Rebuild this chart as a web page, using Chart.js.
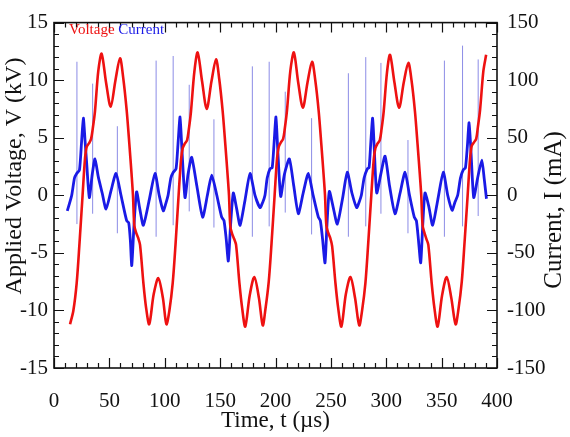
<!DOCTYPE html>
<html>
<head>
<meta charset="utf-8">
<script src="https://cdn.jsdelivr.net/npm/chart.js@4.4.1/dist/chart.umd.min.js"></script>
<style>
  html, body { margin: 0; padding: 0; background: #fff; }
</style>
</head>
<body>
<canvas id="chart" width="570" height="437"></canvas>
<script>
// Applied voltage (kV) vs time (us)
const voltTime = [
  14.5, 17.5, 20.5, 23, 25.8, 28, 29.5, 31.5, 33.5, 35, 37, 40, 43, 47, 51.2, 55.5, 59.6, 62.5, 65.6, 68, 70.1, 71.3, 72.5, 74, 76, 77.7, 80.7, 83.2, 86, 90, 94.2, 98.3, 101.5,
  104.2, 107.2, 109.7, 112.5, 114.7, 116.2, 118.2, 120.2, 121.7, 123.7, 126.7, 129.7, 133.7, 137.9, 142.2, 146.3, 149.2, 152.3, 154.7, 156.8, 158, 159.2, 160.7, 162.7, 164.4, 167.4, 169.9, 172.7, 176.7, 180.9, 185, 188.5,
  190.9, 193.9, 196.4, 199.2, 201.4, 202.9, 204.9, 206.9, 208.4, 210.4, 213.4, 216.6, 220.5, 224.7, 228.9, 233, 235.9, 239, 241.4, 243.5, 244.7, 245.9, 247.4, 249.4, 251.1, 254.1, 256.6, 259.5, 263.5, 267.7, 271.8, 275.6,
  278.2, 281.2, 283.7, 286.5, 288.7, 290.2, 292.2, 294.2, 295.7, 297.7, 300.7, 303.4, 307.4, 311.6, 315.8, 319.9, 322.8, 325.9, 328.3, 330.4, 331.6, 332.8, 334.3, 336.3, 338, 341, 343.5, 346.4, 350.4, 354.6, 358.7, 362.6,
  365.2, 368.2, 370.7, 373.5, 375.7, 377.2, 379.2, 381.2, 382.7, 384.7, 387.7, 390.2
];
const voltValue = [
  -11.2, -10.0, -7.6, -4.2, 0, 3.2, 4.2, 4.5, 4.9, 5.8, 7.3, 10.8, 12.3, 9.8, 7.7, 10.0, 11.9, 10.2, 7.4, 4.5, 1.75, 0, -2.6, -3.2, -3.7, -4.3, -7.6, -9.8, -11.2, -8.6, -7.2, -8.9, -11.2,
  -10.0, -7.6, -4.3, 0, 3.1, 4.1, 4.5, 4.8, 5.7, 7.3, 10.7, 12.4, 9.9, 7.5, 9.9, 11.8, 10.1, 7.3, 4.4, 1.7, 0, -2.7, -3.3, -3.8, -4.3, -7.6, -9.8, -11.4, -8.7, -7.1, -8.9, -11.3,
  -9.9, -7.5, -4.2, 0, 3.2, 4.2, 4.6, 4.9, 5.8, 7.4, 10.8, 12.4, 9.8, 7.6, 9.8, 11.6, 10.0, 7.3, 4.4, 1.7, 0, -2.6, -3.2, -3.7, -4.4, -7.6, -9.8, -11.4, -8.6, -7.1, -8.9, -11.3,
  -10.0, -7.6, -4.2, 0, 3.1, 4.1, 4.5, 4.8, 5.7, 7.3, 10.7, 12.2, 9.8, 7.6, 9.8, 11.5, 10.0, 7.3, 4.4, 1.7, 0, -2.6, -3.2, -3.8, -4.3, -7.6, -9.8, -11.4, -8.7, -7.1, -8.9, -11.2,
  -9.9, -7.5, -4.1, 0, 3.2, 4.3, 4.6, 4.9, 5.9, 7.4, 10.8, 12.2
];

// Discharge current (mA) vs time (us)
const currTime = [
  12, 14, 16, 18.5, 20.5, 23, 24.8, 26.5, 28, 29.5, 31.9, 34.5, 37, 40, 43.5, 47, 51.5, 56, 60.5, 65.6, 67.5, 69, 70.2, 72.3, 74.6, 77.5, 80.7, 86, 91.2, 95, 98.7,
  101, 103, 105.5, 107.7, 110.2, 112, 113.8, 115.5, 118.3, 121, 124.3, 129, 134.2, 138.5, 142.4, 147, 151.4, 153.5, 155.5, 157.4, 159.5, 161.9, 165, 168, 172.5, 177, 181.5, 186,
  188.5, 190.5, 192.5, 195, 197, 198.7, 200.4, 202, 204.7, 208, 212.5, 216.5, 220.6, 225, 229.6, 234, 238.7, 240.5, 242.5, 244.7, 246.5, 248.6, 252, 255.8, 260.5, 264.8, 269, 273.3,
  275.5, 277.5, 280, 282.9, 284.5, 286, 287.7, 289.2, 291.4, 295, 298.9, 303, 307.9, 312.5, 317, 321, 325.3, 327.2, 329, 331.1, 333, 335, 338.5, 341.9, 346.5, 351.5, 355.5, 359.5,
  362, 364.5, 367, 369.5, 371.5, 373.2, 374.8, 376.5, 379, 382.5, 386.3, 388.5, 390.5
];
const currValue = [
  -13.5, -7, 0, 15, 19, 22, 45, 67, 48, 28, -2, 18, 31.6, 16, 2, -12, 4, 19, 0, -22, -24, -40, -61, -25, 3, -12, -26, -4, 19, 0, -13.5,
  -7, 0, 15, 20, 23, 45, 68, 40, -2, 18, 33, 8, -19, 0, 17.5, 0, -19, -22, -38, -57, -25, 2, -12, -26, -4, 19, 0, -10.7,
  -6, 0, 15, 23, 24, 45, 68, 40, -1, 18, 31.6, 8, -16, 2, 19, 0, -19, -22, -38, -58.6, -25, 3.4, -10, -25, -3, 20, 2, -10.7,
  -6, 0, 15, 23, 24, 45, 67, 40, 2, 18, 34, 8, -16, 2, 20, 0, -19, -22, -38, -58.6, -25, 2, -10, -26, -4, 20, 0, -13,
  -6, 0, 15, 22, 24, 42, 63, 38, -2, 15, 30.6, 14, -3
];

// single-sample current spikes (thin light lines)
const spikeTime   = [20.7, 34.9, 57.2, 92.2, 107.6, 122.1, 144.4, 179.1, 194.3, 208.8, 232.6, 265.8, 281.5, 295.2, 319.6, 352.5, 368.9, 383];
const spikeTop    = [116, 97, 60, 117, 121, 96, 66, 112, 116, 90, 67, 106, 120, 115, 48, 117, 130, 118];
const spikeBottom = [-25, -16, -33, -36, -26, -14, -28, -36, -27, -15, -34, -36, -27, -16, -33, -36, -27, -18];

const timeTicks = [0, 50, 100, 150, 200, 250, 300, 350, 400];
const voltTicks = [-15, -10, -5, 0, 5, 10, 15];
const currTicks = [-150, -100, -50, 0, 50, 100, 150];

const voltData = voltTime.map((t, i) => ({ x: t, y: voltValue[i] }));
const currData = currTime.map((t, i) => ({ x: t, y: currValue[i] }));
const spikeData = [];
spikeTime.forEach((t, i) => {
  spikeData.push({ x: t, y: spikeBottom[i] }, { x: t, y: spikeTop[i] }, { x: t, y: null });
});

const serif = "'Liberation Serif', 'Times New Roman', serif";
Chart.defaults.font.family = serif;
Chart.defaults.color = '#111';

// inward tick marks, frame, axis titles and the coloured in-plot legend
const framePlugin = {
  id: 'frame',
  afterDatasetsDraw(chart) {
    const { ctx, chartArea: a, scales } = chart;
    const x = scales.x, y = scales.y;
    ctx.save();
    ctx.strokeStyle = '#111';
    ctx.lineWidth = 1.2;
    ctx.beginPath();
    for (let t = 0; t <= 400; t += 10) {
      const px = Math.round(x.getPixelForValue(t)) + 0.5;
      const len = t % 50 === 0 ? 10 : 5;
      ctx.moveTo(px, a.bottom); ctx.lineTo(px, a.bottom - len);
      ctx.moveTo(px, a.top); ctx.lineTo(px, a.top + len);
    }
    for (let v = -15; v <= 15; v += 1) {
      const py = Math.round(y.getPixelForValue(v)) + 0.5;
      const len = v % 5 === 0 ? 10 : 5;
      ctx.moveTo(a.left, py); ctx.lineTo(a.left + len, py);
      ctx.moveTo(a.right, py); ctx.lineTo(a.right - len, py);
    }
    ctx.stroke();
    ctx.lineWidth = 1.6;
    ctx.strokeRect(a.left, a.top, a.right - a.left, a.bottom - a.top);

    // axis titles
    ctx.fillStyle = '#111';
    ctx.textAlign = 'center';
    ctx.textBaseline = 'middle';
    ctx.font = '23px ' + serif;
    ctx.fillText('Time, t (\u00b5s)', (a.left + a.right) / 2, 421);
    ctx.save();
    ctx.translate(15, 176);
    ctx.rotate(-Math.PI / 2);
    ctx.font = '24px ' + serif;
    ctx.fillText('Applied Voltage, V (kV)', 0, 0);
    ctx.restore();
    ctx.save();
    ctx.translate(554, 210);
    ctx.rotate(-Math.PI / 2);
    ctx.font = '25px ' + serif;
    ctx.fillText('Current, I (mA)', 0, 0);
    ctx.restore();

    ctx.textAlign = 'left';
    ctx.font = '15px ' + serif;
    ctx.fillStyle = '#ee1111';
    ctx.fillText('Voltage', 69, 30);
    const w = ctx.measureText('Voltage ').width;
    ctx.fillStyle = '#1a1ae6';
    ctx.fillText('Current', 69 + w, 30);
    ctx.restore();
  }
};

new Chart(document.getElementById('chart'), {
  type: 'line',
  data: {
    datasets: [
      {
        label: 'Voltage',
        data: voltData,
        yAxisID: 'y',
        borderColor: '#ee1111',
        borderWidth: 2.6,
        pointRadius: 0,
        tension: 0.3,
        fill: false,
      },
      {
        label: 'Current',
        data: currData,
        yAxisID: 'y1',
        borderColor: '#1a1ae6',
        borderWidth: 2.8,
        pointRadius: 0,
        tension: 0.2,
        fill: false,
      },
      {
        label: 'Current spikes',
        data: spikeData,
        yAxisID: 'y1',
        borderColor: '#8c8ce6',
        borderWidth: 1,
        pointRadius: 0,
        tension: 0,
        spanGaps: false,
        fill: false,
      },
    ],
  },
  options: {
    responsive: false,
    animation: false,
    layout: { padding: { top: 13, left: 0, right: 0, bottom: 0 } },
    plugins: {
      legend: { display: false },
      tooltip: { enabled: false },
    },
    scales: {
      x: {
        type: 'linear',
        min: 0,
        max: 400,
        afterBuildTicks: (s) => { s.ticks = timeTicks.map((v) => ({ value: v })); },
        afterFit: (s) => { s.height = 69; },
        grid: { display: false, drawTicks: false },
        border: { display: false },
        ticks: { padding: 21, font: { size: 21 }, color: '#111' },
      },
      y: {
        position: 'left',
        min: -15,
        max: 15,
        afterBuildTicks: (s) => { s.ticks = voltTicks.map((v) => ({ value: v })); },
        afterFit: (s) => { s.width = 54; },
        grid: { display: false, drawTicks: false },
        border: { display: false },
        ticks: { padding: 6, font: { size: 21 }, color: '#111' },
      },
      y1: {
        position: 'right',
        min: -150,
        max: 150,
        afterBuildTicks: (s) => { s.ticks = currTicks.map((v) => ({ value: v })); },
        afterFit: (s) => { s.width = 73; },
        grid: { display: false, drawTicks: false },
        border: { display: false },
        ticks: { padding: 10, font: { size: 21 }, color: '#111' },
      },
    },
  },
  plugins: [framePlugin],
});
</script>
</body>
</html>
